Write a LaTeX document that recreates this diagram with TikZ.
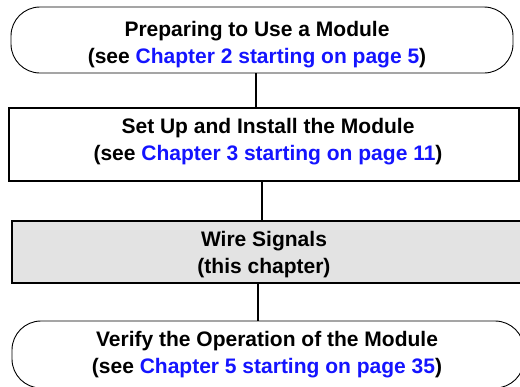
\documentclass[tikz,border=0pt]{standalone}
\usepackage{fontspec}
\setmainfont{Liberation Sans}
\usetikzlibrary{calc, positioning}
\definecolor{linkblue}{RGB}{20,20,255}
\definecolor{stepgray}{RGB}{227,227,227}
\newcommand{\chapref}[2]{(see \textcolor{linkblue}{Chapter #1 starting on page #2})}
\tikzset{
  flowtext/.style={font=\bfseries\fontsize{21}{27}\selectfont, align=center, inner sep=0pt},
  endbox/.style={draw, line width=0.9pt, rounded corners=29pt, inner sep=0pt},
  stepbox/.style={draw, line width=2pt, inner sep=0pt},
  link/.style={line width=2pt}
}

\begin{document}
\begin{tikzpicture}[x=1pt,y=-1pt]
        \useasboundingbox (0,0) rectangle (520,386);

        \node[endbox, minimum width=502pt, minimum height=66pt] (prep) at (262,40) {};
        \node[flowtext] (prep-text) at ($(prep.center)+(-5,5)$) {Preparing to Use a Module\\\chapref{2}{5}};

        \node[stepbox, minimum width=510pt, minimum height=73pt] (setup) at (264,144.5) {};
        \node[flowtext] (setup-text) at ($(setup.center)+(4,-2.5)$) {Set Up and Install the Module\\\chapref{3}{11}};

        \node[stepbox, fill=stepgray, minimum width=512pt, minimum height=62pt] (wire) at (268,252) {};
        \node[flowtext] (wire-text) at ($(wire.center)+(-4,2.5)$) {Wire Signals\\(this chapter)};

        \node[endbox, minimum width=512pt, minimum height=67pt] (verify) at (268,354.5) {};
        \node[flowtext] (verify-text) at ($(verify.center)+(-1,0)$) {Verify the Operation of the Module\\\chapref{5}{35}};

        \coordinate (x1) at (256,0);
        \coordinate (x2) at (262,0);
        \coordinate (x3) at (258,0);
        \draw[link] (prep.south -| x1) -- (setup.north -| x1);
        \draw[link] (setup.south -| x2) -- (wire.north -| x2);
        \draw[link] (wire.south -| x3) -- (verify.north -| x3);
    \end{tikzpicture}
\end{document}
